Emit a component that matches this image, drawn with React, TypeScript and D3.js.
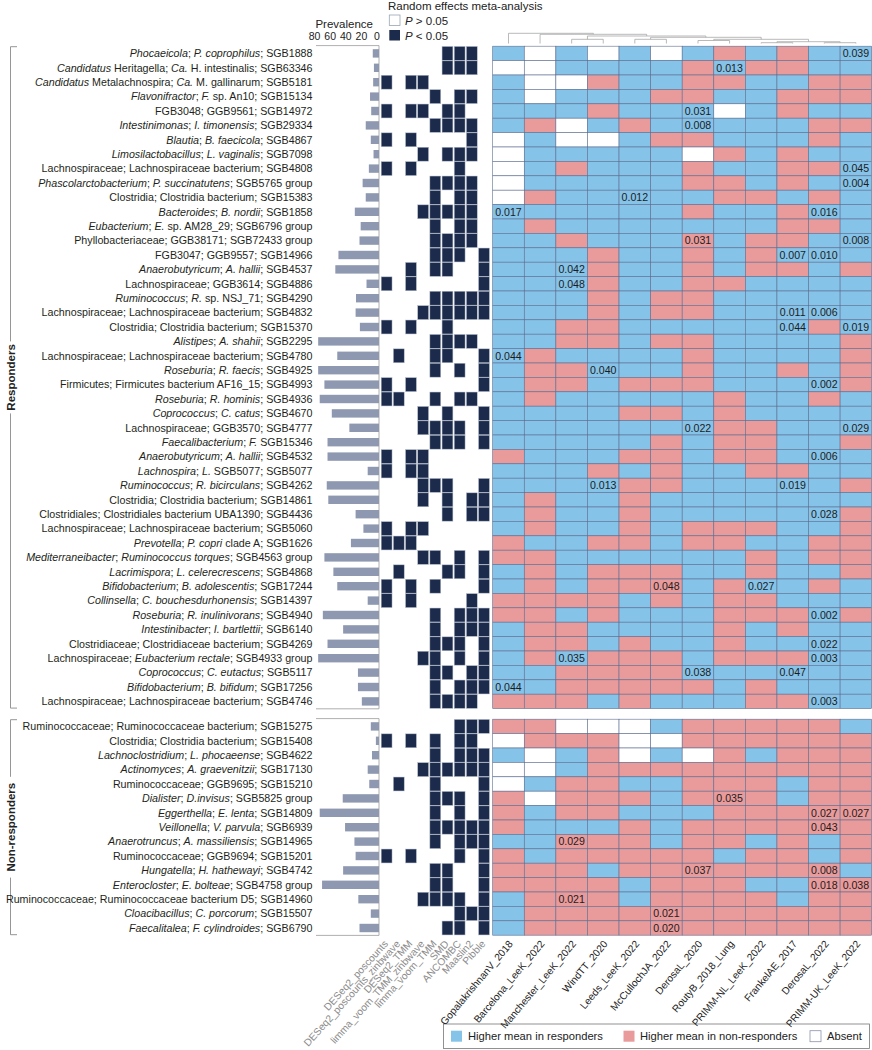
import React from "react";
import * as d3 from "d3";

// ---------------- DATA ----------------
const studies = [
  "GopalakrishnanV_2018", "Barcelona_LeeK_2022", "Manchester_LeeK_2022", "WindTT_2020",
  "Leeds_LeeK_2022", "McCullochJA_2022", "DerosaL_2020", "RoutyB_2018_Lung",
  "PRIMM-NL_LeeK_2022", "FrankelAE_2017", "DerosaL_2022", "PRIMM-UK_LeeK_2022",
];

const methods = [
  "DESeq2_poscounts", "DESeq2_poscounts_zinbwave", "DESeq2_TMM", "limma_voom_TMM_zinbwave",
  "limma_voom_TMM", "SMD", "ANCOMBC", "Maaslin2", "Pibble",
];

const prevalenceTicks = [80, 60, 40, 20, 0];

// text between * * is italic
const responderTaxa = [
  "*Phocaeicola*; *P. coprophilus*; SGB1888",
  "*Candidatus* Heritagella; *Ca.* H. intestinalis; SGB63346",
  "*Candidatus* Metalachnospira; *Ca.* M. gallinarum; SGB5181",
  "*Flavonifractor*; *F.* sp. An10; SGB15134",
  "FGB3048; GGB9561; SGB14972",
  "*Intestinimonas*; *I. timonensis*; SGB29334",
  "*Blautia*; *B. faecicola*; SGB4867",
  "*Limosilactobacillus*; *L. vaginalis*; SGB7098",
  "Lachnospiraceae; Lachnospiraceae bacterium; SGB4808",
  "*Phascolarctobacterium*; *P. succinatutens*; SGB5765 group",
  "Clostridia; Clostridia bacterium; SGB15383",
  "*Bacteroides*; *B. nordii*; SGB1858",
  "*Eubacterium*; *E.* sp. AM28_29; SGB6796 group",
  "Phyllobacteriaceae; GGB38171; SGB72433 group",
  "FGB3047; GGB9557; SGB14966",
  "*Anaerobutyricum*; *A. hallii*; SGB4537",
  "Lachnospiraceae; GGB3614; SGB4886",
  "*Ruminococcus*; *R.* sp. NSJ_71; SGB4290",
  "Lachnospiraceae; Lachnospiraceae bacterium; SGB4832",
  "Clostridia; Clostridia bacterium; SGB15370",
  "*Alistipes*; *A. shahii*; SGB2295",
  "Lachnospiraceae; Lachnospiraceae bacterium; SGB4780",
  "*Roseburia*; *R. faecis*; SGB4925",
  "Firmicutes; Firmicutes bacterium AF16_15; SGB4993",
  "*Roseburia*; *R. hominis*; SGB4936",
  "*Coprococcus*; *C. catus*; SGB4670",
  "Lachnospiraceae; GGB3570; SGB4777",
  "*Faecalibacterium*; *F.* SGB15346",
  "*Anaerobutyricum*; *A. hallii*; SGB4532",
  "*Lachnospira*; *L.* SGB5077; SGB5077",
  "*Ruminococcus*; *R. bicirculans*; SGB4262",
  "Clostridia; Clostridia bacterium; SGB14861",
  "Clostridiales; Clostridiales bacterium UBA1390; SGB4436",
  "Lachnospiraceae; Lachnospiraceae bacterium; SGB5060",
  "*Prevotella*; *P. copri* clade A; SGB1626",
  "*Mediterraneibacter*; *Ruminococcus torques*; SGB4563 group",
  "*Lacrimispora*; *L. celerecrescens*; SGB4868",
  "*Bifidobacterium*; *B. adolescentis*; SGB17244",
  "*Collinsella*; *C. bouchesdurhonensis*; SGB14397",
  "*Roseburia*; *R. inulinivorans*; SGB4940",
  "*Intestinibacter*; *I. bartlettii*; SGB6140",
  "Clostridiaceae; Clostridiaceae bacterium; SGB4269",
  "Lachnospiraceae; *Eubacterium rectale*; SGB4933 group",
  "*Coprococcus*; *C. eutactus*; SGB5117",
  "*Bifidobacterium*; *B. bifidum*; SGB17256",
  "Lachnospiraceae; Lachnospiraceae bacterium; SGB4746",
];

const nonResponderTaxa = [
  "Ruminococcaceae; Ruminococcaceae bacterium; SGB15275",
  "Clostridia; Clostridia bacterium; SGB15408",
  "*Lachnoclostridium*; *L. phocaeense*; SGB4622",
  "*Actinomyces*; *A. graevenitzii*; SGB17130",
  "Ruminococcaceae; GGB9695; SGB15210",
  "*Dialister*; *D.invisus*; SGB5825 group",
  "*Eggerthella*; *E. lenta*; SGB14809",
  "*Veillonella*; *V. parvula*; SGB6939",
  "*Anaerotruncus*; *A. massiliensis*; SGB14965",
  "Ruminococcaceae; GGB9694; SGB15201",
  "*Hungatella*; *H. hathewayi*; SGB4742",
  "*Enterocloster*; *E. bolteae*; SGB4758 group",
  "Ruminococcaceae; Ruminococcaceae bacterium D5; SGB14960",
  "*Cloacibacillus*; *C. porcorum*; SGB15507",
  "*Faecalitalea*; *F. cylindroides*; SGB6790",
];

const responderPrevalence = [
  8, 6.5, 7.5, 11.5, 10, 17, 10.5, 7, 13, 21,
  17, 31, 23.5, 25, 52, 56, 16, 29.5, 30, 24.5,
  78, 53.5, 78, 70, 76, 60.5, 38, 66, 66, 14.5,
  67, 65, 30, 20, 36, 70, 58.5, 53.5, 14.5, 72,
  46, 66, 78, 27, 27, 22,
];
const nonResponderPrevalence = [
  10.5, 4, 9, 14.5, 12.5, 46.5, 76, 43.5, 31.5, 30, 46, 73, 26.5, 10.5, 25,
];

// B = higher mean in responders, R = higher in non-responders, W = absent
const responderDirection = [
  "BWBWBWBRBRBB", "WWBBBBRBRRBB", "BWWRBBRRBBRR", "BWBBBRRBBRRR", "BBBRBBBWBRBB",
  "BRWBRBBBBBRR", "WBWWBRRBBBRB", "WBBBBBWRBRBB", "WBRBBBRBBRRB", "WBBBBBRRBRBB",
  "WRBBBBBRRBRB", "BBBBBBRBBRBB", "BRBBBBBBBRRB", "BBRBBBRBRRBB", "BBBRBBRBRBBB",
  "BBBRBBRBRRBR", "BBBRBBRRBBBB", "BBBRBRRBBBBB", "BBBRBRRBBBBB", "BBRRBBBBBBRB",
  "BBRRBRRBBBBR", "BRBBBBRBBBBR", "BRRBBBRBBRBR", "BRRBRRRBBBBR", "BRBBBBBRBBRB",
  "BBBBRRBRBBBB", "BBBBBBBRRBBB", "BBBBBRBRRBBR", "RBBBRRBRRBBB", "BBBRBRBBRRBB",
  "BBBBRRBBBBBR", "BRBBRBBBBBBB", "BRBBRBBBBBBR", "BRBBRBRRRBBR", "RBBRRBRRBBRR",
  "RRBBBBBBRBRR", "BRBRRRBBRBBR", "BRBRRRBRBBRB", "RRRRBRBRRBBB", "RRBRBBBRRRBR",
  "BRRBBBBRBRBB", "BRRBRBBRBBBB", "BRBRRRBRRRBB", "BBRRRRBBBBBB", "BBRRRRRBRBBB",
  "RRRBRBBBRRBB",
];
const nonResponderDirection = [
  "RRWWWBRRRRRB", "WRRRWWRRRRRR", "BWBRWBWRBRRR", "WWBRRRRRRRRR", "WBRRBBRRRBRR",
  "RWRRRBRRRBRR", "RBRRBBBRRRRR", "RBBBRBRRRRRR", "BBRRRBRRBRBR", "RBRRRRRBRRBR",
  "RRRBRRRRRRRB", "RRRRBRRRBBRR", "BRRRBRRRRBRR", "BRRRRRRRRRRR", "BRRRRRRRRRRR",
];

// study-level p values: [row, study column, p]
const responderP: [number, number, string][] = [
  [0, 11, "0.039"], [1, 7, "0.013"], [4, 6, "0.031"], [5, 6, "0.008"], [8, 11, "0.045"],
  [9, 11, "0.004"], [10, 4, "0.012"], [11, 0, "0.017"], [11, 10, "0.016"], [13, 6, "0.031"],
  [13, 11, "0.008"], [14, 9, "0.007"], [14, 10, "0.010"], [15, 2, "0.042"], [16, 2, "0.048"],
  [18, 9, "0.011"], [18, 10, "0.006"], [19, 9, "0.044"], [19, 11, "0.019"], [21, 0, "0.044"],
  [22, 3, "0.040"], [23, 10, "0.002"], [26, 6, "0.022"], [26, 11, "0.029"], [28, 10, "0.006"],
  [30, 3, "0.013"], [30, 9, "0.019"], [32, 10, "0.028"], [37, 5, "0.048"], [37, 8, "0.027"],
  [39, 10, "0.002"], [41, 10, "0.022"], [42, 2, "0.035"], [42, 10, "0.003"], [43, 6, "0.038"],
  [43, 9, "0.047"], [44, 0, "0.044"], [45, 10, "0.003"],
];
const nonResponderP: [number, number, string][] = [
  [5, 7, "0.035"], [6, 10, "0.027"], [6, 11, "0.027"], [7, 10, "0.043"], [8, 2, "0.029"],
  [10, 6, "0.037"], [10, 10, "0.008"], [11, 10, "0.018"], [11, 11, "0.038"], [12, 2, "0.021"],
  [13, 5, "0.021"], [14, 5, "0.020"],
];

// random-effects meta-analysis significance per method (1 = P < 0.05)
const responderSig = [
  "000001110", "000001110", "101100000", "000010110", "101101100",
  "000011110", "101000010", "000101110", "101000100", "000011110",
  "000010110", "000111110", "000010110", "000011110", "000011101",
  "001011001", "101000001", "000011111", "000111111", "101001000",
  "000011110", "010011001", "000010101", "101000001", "110010110",
  "000101001", "000111101", "000011101", "101100000", "101100000",
  "000111001", "000101011", "000001011", "101100000", "111000000",
  "000110101", "010001101", "101010001", "101000010", "000010111",
  "000010111", "000011101", "000110101", "000011011", "000010111",
  "000011110",
];
const nonResponderSig = [
  "000000111", "101010110", "000010111", "000111111", "010010001",
  "000011101", "000010101", "000011111", "000010111", "101000101",
  "000011001", "000011001", "000111101", "000000111", "000001101",
];

// dendrogram of studies: [childA, childB, distance]; index >= 12 refers to merge (index - 12)
const studyLinkage: [number, number, number][] = [
  [8, 9, 0.08], [10, 11, 0.08], [12, 13, 0.18], [6, 7, 0.3], [15, 14, 0.42],
  [4, 5, 0.42], [2, 3, 0.42], [17, 16, 0.62], [18, 19, 0.75], [1, 20, 0.92], [0, 21, 1.02],
];

// ---------------- STYLE ----------------
const FONT = "'Liberation Sans', Arial, Helvetica, sans-serif";
const BLUE = "#86c3e8";
const PINK = "#e99a9b";
const NAVY = "#1c2b4b";
const GRID = "#5e6f92";
const BAR = "#8e98b0";
const dirColor: Record<string, string> = { B: BLUE, R: PINK, W: "#ffffff" };

const W = 872;
const H = 1050;
const ROW_H = 14.4;
const RESP_Y0 = 46.2;
const NR_Y0 = 719.2;
const LABEL_X = 312.5;

function parseLabel(s: string) {
  return s
    .split("*")
    .map((t, i) => ({ t, it: i % 2 === 1 }))
    .filter((p) => p.t.length > 0);
}

export default function App() {
  const xHeat = d3.scaleBand<string>().domain(studies).range([492.7, 871.7]);
  const xMat = d3.scaleBand<string>().domain(methods).range([381.2, 489.4]).paddingInner(0.11);
  const xPrev = d3.scaleLinear().domain([0, 80]).range([379, 316.6]);
  const yDen = d3.scaleLinear().domain([0, 1.02]).range([43.5, 33.3]);

  const groups = [
    {
      key: "resp",
      name: "Responders",
      taxa: responderTaxa,
      prev: responderPrevalence,
      dir: responderDirection,
      sig: responderSig,
      p: responderP,
      y0: RESP_Y0,
    },
    {
      key: "nr",
      name: "Non-responders",
      taxa: nonResponderTaxa,
      prev: nonResponderPrevalence,
      dir: nonResponderDirection,
      sig: nonResponderSig,
      p: nonResponderP,
      y0: NR_Y0,
    },
  ];

  // dendrogram geometry
  const nodeX: number[] = studies.map((s) => (xHeat(s) as number) + xHeat.bandwidth() / 2);
  const nodeH: number[] = studies.map(() => 0);
  const denPaths: string[] = [];
  studyLinkage.forEach(([a, b, h]) => {
    const xa = nodeX[a];
    const xb = nodeX[b];
    const p = d3.path();
    p.moveTo(xa, yDen(nodeH[a]));
    p.lineTo(xa, yDen(h));
    p.lineTo(xb, yDen(h));
    p.lineTo(xb, yDen(nodeH[b]));
    denPaths.push(p.toString());
    nodeX.push((xa + xb) / 2);
    nodeH.push(h);
  });

  const lastY0 = NR_Y0 + nonResponderTaxa.length * ROW_H;

  return (
    <svg
      width={W}
      height={H}
      viewBox={`0 0 ${W} ${H}`}
      style={{ position: "absolute", left: 0, top: 0, background: "#fff" }}
      fontFamily={FONT}
    >
      <rect x={0} y={0} width={W} height={H} fill="#fff" />

      {/* Top legend for meta-analysis */}
      <text x={388} y={10} fontSize={11.5} fill="#222">Random effects meta-analysis</text>
      <rect x={389.3} y={15} width={10.7} height={10.5} fill="#fff" stroke="#9aa3b5" strokeWidth={0.8} />
      <text x={405} y={24.5} fontSize={11.5} fill="#222">
        <tspan fontStyle="italic">P</tspan> &gt; 0.05
      </text>
      <rect x={389.3} y={30} width={10.7} height={10.5} fill={NAVY} />
      <text x={405} y={39.5} fontSize={11.5} fill="#222">
        <tspan fontStyle="italic">P</tspan> &lt; 0.05
      </text>

      {/* Prevalence header */}
      <text x={373} y={27.5} fontSize={11.5} textAnchor="end" fill="#222">Prevalence</text>
      {prevalenceTicks.map((t) => (
        <text key={t} x={xPrev(t) - 2} y={39.5} fontSize={10.5} textAnchor="middle" fill="#222">
          {t}
        </text>
      ))}

      {/* dendrogram */}
      {denPaths.map((d, i) => (
        <path key={i} d={d} fill="none" stroke="#a7a7a7" strokeWidth={0.8} />
      ))}

      {/* bottom legend */}
      <g>
        <rect x={443.5} y={1024} width={426} height={24.5} fill="#fff" stroke="#777" strokeWidth={0.8} />
        <rect x={451} y={1030.7} width={11} height={11} fill={BLUE} />
        <text x={468} y={1036.2} dy="0.36em" fontSize={11.2} fill="#222">Higher mean in responders</text>
        <rect x={623.5} y={1030.7} width={11} height={11} fill={PINK} />
        <text x={640} y={1036.2} dy="0.36em" fontSize={11.2} fill="#222">Higher mean in non-responders</text>
        <rect x={810} y={1030.7} width={11} height={11} fill="#fff" stroke="#8a93a8" strokeWidth={0.8} />
        <text x={827} y={1036.2} dy="0.36em" fontSize={11.2} fill="#222">Absent</text>
      </g>

      {groups.map((g) => {
        const n = g.taxa.length;
        const yB = d3
          .scaleBand<number>()
          .domain(d3.range(n))
          .range([g.y0, g.y0 + n * ROW_H]);
        const y1 = g.y0 + n * ROW_H;
        const mid = (g.y0 + y1) / 2;
        return (
          <g key={g.key}>
            {/* bracket and group name */}
            <path
              d={`M17,${g.y0 + 0.5} H10.5 V${y1 - 0.5} H17`}
              fill="none"
              stroke="#8a8a8a"
              strokeWidth={0.9}
            />
            <g transform={`translate(10.5,${mid}) rotate(-90)`}>
              <rect
                x={-(g.name.length * 3.6)}
                y={-6}
                width={g.name.length * 7.2}
                height={12}
                fill="#fff"
              />
              <text x={0} y={0} dy="0.35em" fontSize={11.5} fontWeight="bold" textAnchor="middle" fill="#222">
                {g.name}
              </text>
            </g>

            {/* row labels */}
            {g.taxa.map((t, i) => (
              <text
                key={i}
                x={LABEL_X}
                y={(yB(i) as number) + ROW_H / 2}
                dy="0.36em"
                fontSize={10.7}
                textAnchor="end"
                fill="#231f20"
              >
                {parseLabel(t).map((p, k) => (
                  <tspan key={k} fontStyle={p.it ? "italic" : "normal"}>
                    {p.t}
                  </tspan>
                ))}
              </text>
            ))}

            {/* prevalence panel frame */}
            <line x1={316} x2={379} y1={g.y0 - 0.6} y2={g.y0 - 0.6} stroke="#9a9a9a" strokeWidth={0.8} />
            <line x1={316} x2={379} y1={y1 + 0.2} y2={y1 + 0.2} stroke="#9a9a9a" strokeWidth={0.8} />
            <line x1={379} x2={379} y1={g.y0 - 0.6} y2={y1 + 0.2} stroke="#9a9a9a" strokeWidth={0.8} />
            {g.prev.map((v, i) => (
              <rect
                key={i}
                x={xPrev(v)}
                y={(yB(i) as number) + (ROW_H - 8.4) / 2}
                width={xPrev(0) - xPrev(v)}
                height={8.4}
                fill={BAR}
              />
            ))}

            {/* significance matrix */}
            {g.sig.map((row, i) =>
              row.split("").map((c, j) =>
                c === "1" ? (
                  <rect
                    key={`${i}-${j}`}
                    x={xMat(methods[j]) as number}
                    y={(yB(i) as number) + 0.25}
                    width={xMat.bandwidth()}
                    height={ROW_H - 0.5}
                    fill={NAVY}
                    stroke="#b4bdcc"
                    strokeWidth={0.5}
                  />
                ) : null
              )
            )}

            {/* heatmap */}
            {g.dir.map((row, i) =>
              row.split("").map((c, j) => (
                <rect
                  key={`h${i}-${j}`}
                  x={xHeat(studies[j]) as number}
                  y={yB(i) as number}
                  width={xHeat.bandwidth()}
                  height={ROW_H}
                  fill={dirColor[c]}
                  stroke={GRID}
                  strokeWidth={0.6}
                />
              ))
            )}
            {g.p.map(([r, c, p], k) => (
              <text
                key={`p${k}`}
                x={(xHeat(studies[c]) as number) + xHeat.bandwidth() / 2}
                y={(yB(r) as number) + ROW_H / 2}
                dy="0.36em"
                fontSize={10.6}
                textAnchor="middle"
                fill="#1d1d1d"
              >
                {p}
              </text>
            ))}
          </g>
        );
      })}

      {/* method labels */}
      {methods.map((m) => (
        <text
          key={m}
          transform={`translate(${(xMat(m) as number) + xMat.bandwidth() / 2 + 2},${lastY0 + 9}) rotate(-48)`}
          fontSize={10.2}
          textAnchor="end"
          fill="#8c8c8c"
        >
          {m}
        </text>
      ))}

      {/* study labels */}
      {studies.map((s) => (
        <text
          key={s}
          transform={`translate(${(xHeat(s) as number) + xHeat.bandwidth() / 2 + 5},${lastY0 + 9}) rotate(-50)`}
          fontSize={10.2}
          textAnchor="end"
          fill="#222"
        >
          {s}
        </text>
      ))}
    </svg>
  );
}
